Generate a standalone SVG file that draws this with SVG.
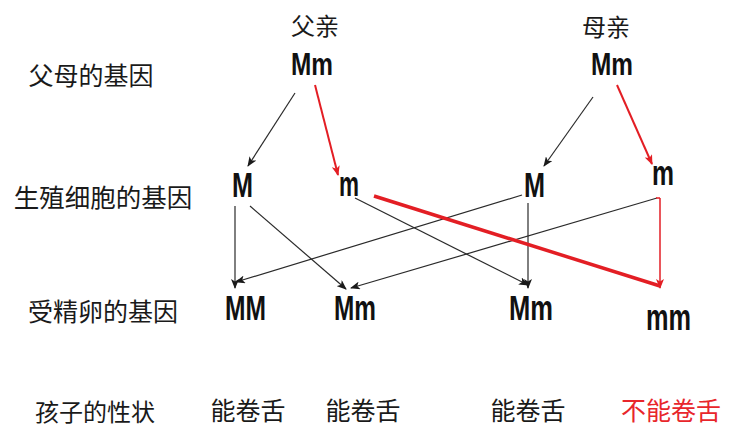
<svg xmlns="http://www.w3.org/2000/svg" width="732" height="427" viewBox="0 0 732 427">
<style>
.cn{font-family:"Noto Sans CJK SC","Noto Sans",sans-serif;fill:#1a1a1a;text-anchor:middle}
.g{font-family:"Liberation Sans",Arial,sans-serif;font-weight:bold;fill:#111}
.red{fill:#e8262b}
.bl{stroke:#2a2a2a;stroke-width:1.2;fill:none}
.rl{stroke:#e31e24;fill:none}
</style>
<defs>
<marker id="ab" markerWidth="10" markerHeight="8" refX="9" refY="4" orient="auto" markerUnits="userSpaceOnUse">
<path d="M0,0 L10,4 L0,8 L2.5,4 Z" fill="#1a1a1a"/>
</marker>
<marker id="ar" markerWidth="10" markerHeight="8" refX="9" refY="4" orient="auto" markerUnits="userSpaceOnUse">
<path d="M0,0 L10,4 L0,8 L2.5,4 Z" fill="#e31e24"/>
</marker>
</defs>
<rect width="732" height="427" fill="#fff"/>
<g id="row-labels">
<text class="cn" x="91" y="85" font-size="25">父母的基因</text>
<text class="cn" x="103" y="207" font-size="25.5">生殖细胞的基因</text>
<text class="cn" x="103" y="321" font-size="25">受精卵的基因</text>
<text class="cn" x="95" y="421" font-size="24">孩子的性状</text>
</g>
<g id="father">
<text class="cn" x="315" y="35" font-size="24">父亲</text>
<text class="g" x="291" y="75" font-size="32" textLength="42" lengthAdjust="spacingAndGlyphs">Mm</text>
</g>
<g id="mother">
<text class="cn" x="606" y="36" font-size="24">母亲</text>
<text class="g" x="591" y="75" font-size="32" textLength="42" lengthAdjust="spacingAndGlyphs">Mm</text>
</g>
<g id="gamete-father-M"><text class="g" x="232" y="197" font-size="35" textLength="21" lengthAdjust="spacingAndGlyphs">M</text></g>
<g id="gamete-father-m"><text class="g" x="339" y="196" font-size="35" textLength="20" lengthAdjust="spacingAndGlyphs">m</text></g>
<g id="gamete-mother-M"><text class="g" x="524" y="197" font-size="35" textLength="21" lengthAdjust="spacingAndGlyphs">M</text></g>
<g id="gamete-mother-m"><text class="g" x="652" y="185" font-size="35" textLength="22" lengthAdjust="spacingAndGlyphs">m</text></g>
<g id="zygote-MM"><text class="g" x="225" y="320" font-size="35" textLength="41" lengthAdjust="spacingAndGlyphs">MM</text></g>
<g id="zygote-Mm-1"><text class="g" x="334" y="320" font-size="35" textLength="42" lengthAdjust="spacingAndGlyphs">Mm</text></g>
<g id="zygote-Mm-2"><text class="g" x="509" y="320" font-size="35" textLength="44" lengthAdjust="spacingAndGlyphs">Mm</text></g>
<g id="zygote-mm"><text class="g" x="646" y="330" font-size="36" textLength="45" lengthAdjust="spacingAndGlyphs">mm</text></g>
<g id="trait-1"><text class="cn" x="248" y="420" font-size="25">能卷舌</text></g>
<g id="trait-2"><text class="cn" x="363" y="420" font-size="25">能卷舌</text></g>
<g id="trait-3"><text class="cn" x="528" y="420" font-size="25">能卷舌</text></g>
<g id="trait-4"><text class="cn red" x="671" y="420" font-size="25">不能卷舌</text></g>
<g id="connectors">
<line class="bl" x1="295" y1="93" x2="248" y2="166" marker-end="url(#ab)"/>
<line class="rl" stroke-width="2" x1="315" y1="85" x2="338" y2="175" marker-end="url(#ar)"/>
<line class="bl" x1="593" y1="97" x2="544" y2="166" marker-end="url(#ab)"/>
<line class="rl" stroke-width="2" x1="617" y1="85" x2="652" y2="164" marker-end="url(#ar)"/>
<line class="bl" x1="235" y1="206" x2="235" y2="288" marker-end="url(#ab)"/>
<line class="bl" x1="250" y1="206" x2="346" y2="289" marker-end="url(#ab)"/>
<line class="bl" x1="355" y1="198" x2="528" y2="285" marker-end="url(#ab)"/>
<line class="bl" x1="522" y1="195" x2="236" y2="282" marker-end="url(#ab)"/>
<line class="bl" stroke-width="1" x1="528" y1="203" x2="528" y2="288" marker-end="url(#ab)"/>
<line class="bl" x1="657" y1="198" x2="351" y2="288" marker-end="url(#ab)"/>
<line class="rl" stroke-width="1.5" x1="656" y1="198" x2="660" y2="198"/>
<line class="rl" stroke-width="1.5" x1="660" y1="198" x2="660" y2="288" marker-end="url(#ar)"/>
<line class="rl" stroke-width="3.5" x1="374" y1="196" x2="660" y2="286"/>
</g>
</svg>
